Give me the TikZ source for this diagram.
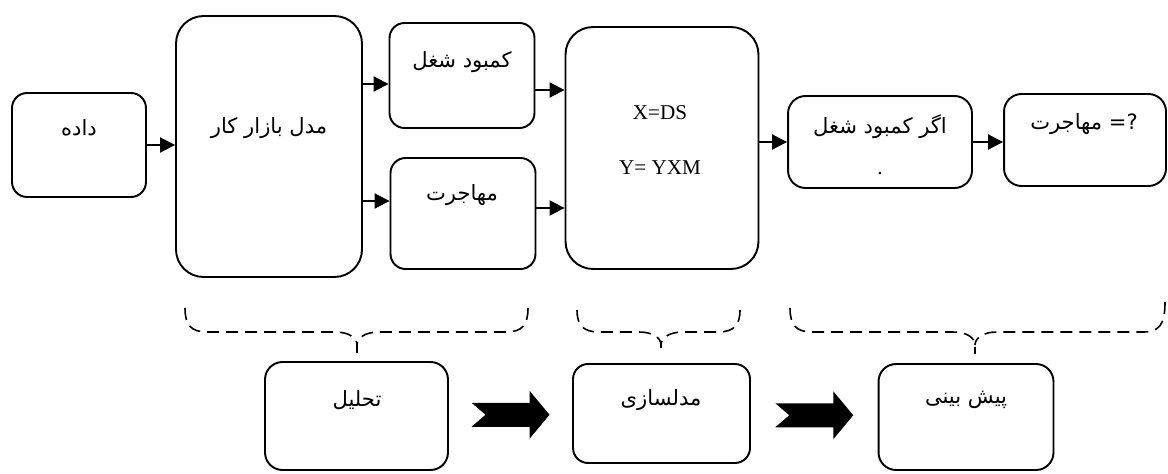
\documentclass[tikz,border=0pt]{standalone}
\usepackage{fontspec}
\setmainfont{Liberation Serif}
\newfontfamily\fafont[Script=Arabic]{DejaVu Sans}
\TeXXeTstate=1
\usepackage{tikz}
\usetikzlibrary{positioning,calc,arrows.meta}
\tikzstyle{box} = [draw,line width=1.1pt,rounded corners=0.3cm,inner sep=0pt]
\tikzstyle{bigbox} = [box,rounded corners=0.55cm]
\tikzstyle{txt} = [inner sep=1pt,font=\fontsize{12}{14}\selectfont]
\tikzstyle{conn} = [line width=1.1pt,-{Triangle[length=0.3cm,width=0.3cm]}]
\tikzstyle{dbr} = [line width=0.9pt,dash pattern=on 0.24cm off 0.14cm]
\newcommand{\fatext}[1]{{\fafont\beginR #1\endR}}
\newcommand{\fatarrow}[1]{\fill (#1) ++(-39,-12) -- ++(58,0) -- ++(0,-12) -- ++(20,24) -- ++(-20,24) -- ++(0,-12) -- ++(-58,0) -- ++(14,-12) -- cycle;}
\newcommand{\dashbrace}[5]{%
  \draw[dbr] (#1,#4) .. controls (#1,325) and (#1+6,332) .. (#1+22,332) -- (#3-22,332) .. controls (#3-8,332) and (#3,338) .. (#3,345) -- (#3,354);
  \draw[dbr] (#2,#5) .. controls (#2,325) and (#2-6,332) .. (#2-22,332) -- (#3+22,332) .. controls (#3+8,332) and (#3,338) .. (#3,345);}

\begin{document}
\begin{tikzpicture}[x=0.02cm,y=-0.02cm]
  \useasboundingbox (0,0) rectangle (1168,473);
  % top row
  \node[box,minimum width=2.68cm,minimum height=2.08cm] (data) at (79,145) {};
  \node[bigbox,minimum width=3.72cm,minimum height=5.22cm] (model) at (269,146.5) {};
  \node[box,minimum width=2.9cm,minimum height=2.1cm] (shortage) at (462,75.5) {};
  \node[box,minimum width=2.9cm,minimum height=2.22cm] (migration) at (463,213.5) {};
  \node[bigbox,minimum width=3.86cm,minimum height=4.84cm] (eqn) at (662,148) {};
  \node[box,rounded corners=0.35cm,minimum width=3.68cm,minimum height=1.84cm] (ifbox) at (880,142) {};
  \node[box,rounded corners=0.35cm,minimum width=3.24cm,minimum height=1.84cm] (qbox) at (1085,140) {};

  \node[txt] (datatxt) at (79,128) {\fatext{داده}};
  \node[txt] (modeltxt) at (269,128) {\fatext{مدل بازار کار}};
  \node[txt] (shortagetxt) at (462,62) {\fatext{کمبود شغل}};
  \node[txt] (migrationtxt) at (462,195) {\fatext{مهاجرت}};
  \node[txt] (xtxt) at (660,113) {X=DS};
  \node[txt] (ytxt) at (660,168) {Y= YXM};
  \node[txt] (iftxt) at (880,127) {\fatext{اگر کمبود شغل}};
  \node[txt] (ifdot) at (880,174) {.};
  \node[txt] (qtxt) at (1084,124) {\fatext{?= مهاجرت}};

  \coordinate (a1) at ($(shortage.west)+(0,8.5)$);
  \coordinate (a2) at ($(migration.west)+(0,-12.5)$);
  \coordinate (a3) at ($(shortage.east)+(0,14.5)$);
  \coordinate (a4) at ($(migration.east)+(0,-5.5)$);
  \draw[conn] (data.east) -- (data.east -| model.west);
  \draw[conn] (a1 -| model.east) -- (a1);
  \draw[conn] (a2 -| model.east) -- (a2);
  \draw[conn] (a3) -- (a3 -| eqn.west);
  \draw[conn] (a4) -- (a4 -| eqn.west);
  \draw[conn] (eqn.east |- ifbox.west) -- (ifbox.west);
  \draw[conn] (ifbox.east) -- (ifbox.east -| qbox.west);

  % braces
  \dashbrace{185}{528}{357}{308}{308}
  \dashbrace{577}{740}{661}{310}{310}
  \dashbrace{790}{1165}{975}{308}{302}

  % bottom row
  \node[box,rounded corners=0.35cm,minimum width=3.66cm,minimum height=2.16cm] (analysis) at (356.5,416) {};
  \node[box,minimum width=3.54cm,minimum height=1.98cm] (modeling) at (661.5,413.5) {};
  \node[box,rounded corners=0.35cm,minimum width=3.5cm,minimum height=2.12cm] (predict) at (966,417) {};
  \node[txt] (analysistxt) at (357,400) {\fatext{تحلیل}};
  \node[txt] (modelingtxt) at (661,400) {\fatext{مدلسازی}};
  \node[txt] (predicttxt) at (966,400) {\fatext{پیش بینی}};

  \fatarrow{$(analysis.east)!0.5!(modeling.west)$}
  \fatarrow{$(modeling.east)!0.5!(predict.west)$}
\end{tikzpicture}
\end{document}
